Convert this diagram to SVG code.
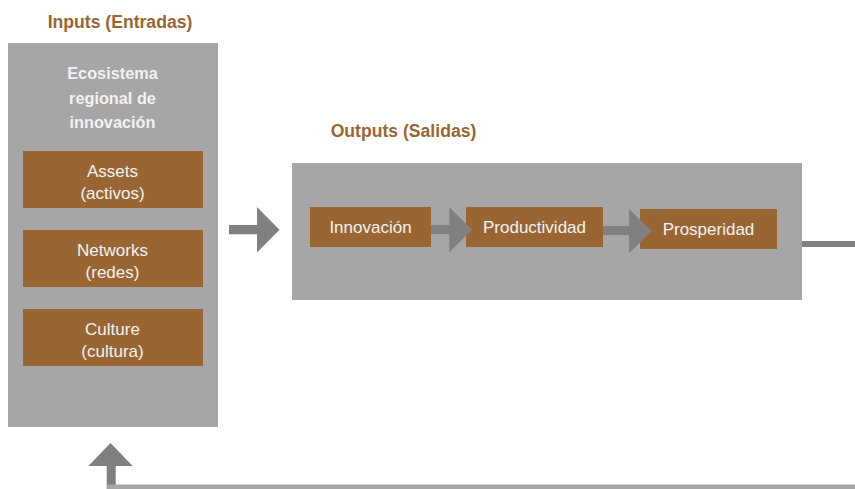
<svg xmlns="http://www.w3.org/2000/svg" width="855" height="489" viewBox="0 0 855 489">
<style>
.panel{fill:#a6a6a6}
.box{fill:#996633}
.title{font-family:"Liberation Sans",Arial,sans-serif;font-weight:bold;font-size:17.6px;fill:#996633;text-anchor:middle}
.head{font-family:"Liberation Sans",Arial,sans-serif;font-weight:bold;font-size:16.3px;fill:#f2f2f2;text-anchor:middle}
.lbl{font-family:"Liberation Sans",Arial,sans-serif;font-size:17px;fill:#f2f2f2;text-anchor:middle}
.arr{fill:#808080}
</style>
<rect width="855" height="489" fill="#ffffff"/>
<g id="inputs">
<text class="title" x="120" y="28">Inputs (Entradas)</text>
<rect class="panel" x="8" y="43" width="210" height="384"/>
<text class="head" x="112.5" y="79">Ecosistema</text>
<text class="head" x="112.5" y="103.5">regional de</text>
<text class="head" x="112.5" y="128">innovación</text>
</g>
<g id="assets">
<rect class="box" x="23" y="151" width="180" height="57"/>
<text class="lbl" x="112.5" y="177">Assets</text>
<text class="lbl" x="112.5" y="199">(activos)</text>
</g>
<g id="networks">
<rect class="box" x="23" y="230" width="180" height="57"/>
<text class="lbl" x="112.5" y="256">Networks</text>
<text class="lbl" x="112.5" y="278">(redes)</text>
</g>
<g id="culture">
<rect class="box" x="23" y="309" width="180" height="57"/>
<text class="lbl" x="112.5" y="335">Culture</text>
<text class="lbl" x="112.5" y="357">(cultura)</text>
</g>
<g id="outputs">
<text class="title" x="403.5" y="137">Outputs (Salidas)</text>
<rect class="panel" x="292" y="163" width="510" height="137"/>
</g>
<g id="innovacion">
<rect class="box" x="310" y="207" width="121" height="40"/>
<text class="lbl" x="370.5" y="233">Innovación</text>
</g>
<g id="productividad">
<rect class="box" x="466" y="207" width="137" height="40"/>
<text class="lbl" x="534.5" y="233">Productividad</text>
</g>
<g id="prosperidad">
<rect class="box" x="640" y="209" width="137" height="40"/>
<text class="lbl" x="708.5" y="235">Prosperidad</text>
</g>
<g id="connectors">
<polygon class="arr" points="229,225 257,225 257,207 279.5,229.8 257,252.5 257,234.3 229,234.3"/>
<polygon class="arr" points="431,225 449.3,225 449.3,207.3 472.3,229.8 449.3,252.3 449.3,234 431,234"/>
<polygon class="arr" points="603,226 629,226 629,209 651.7,231 629,253.3 629,235 603,235"/>
<rect class="arr" x="802" y="241" width="53" height="6"/>
<polygon class="arr" points="106.7,489 106.7,466 88.3,466 110.5,443 132.7,466 115.7,466 115.7,489"/>
<rect x="107" y="484.5" width="748" height="5" fill="#a6a6a6"/>
</g>
</svg>
